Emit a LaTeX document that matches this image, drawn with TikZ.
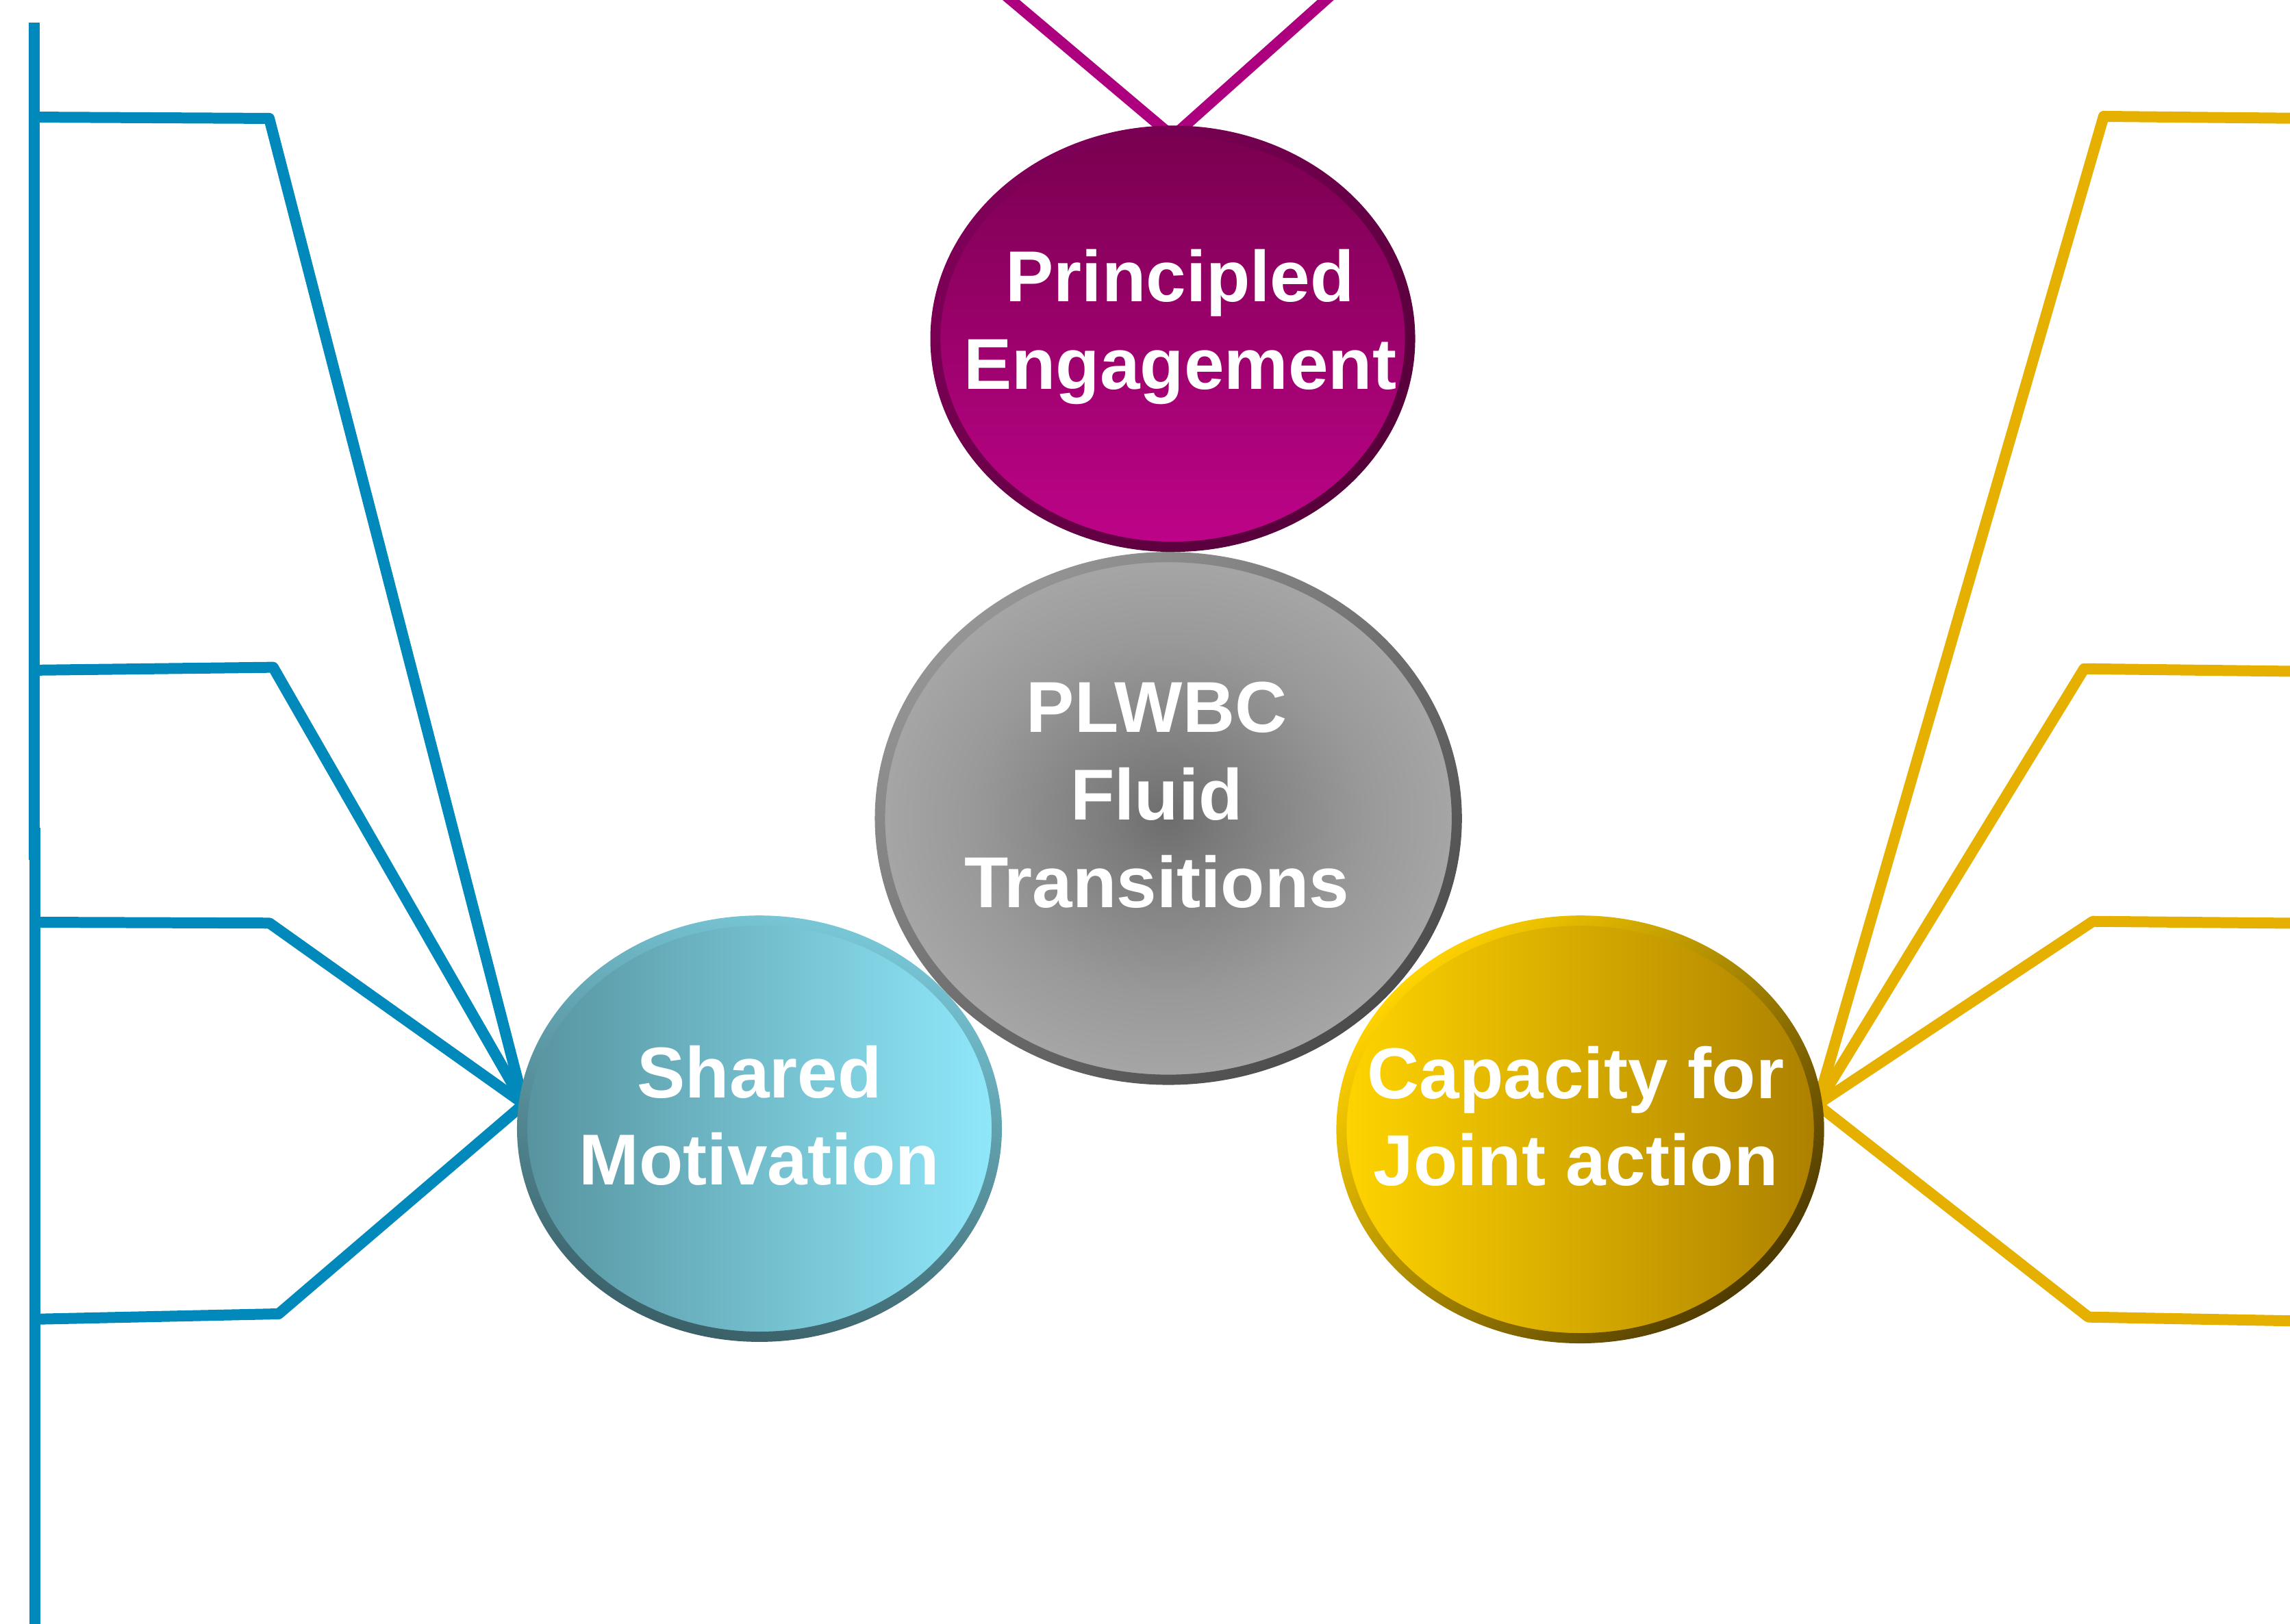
\documentclass[tikz,border=0pt]{standalone}
\usepackage{fontspec}
\setmainfont{Liberation Sans}
\usetikzlibrary{shapes.geometric,calc}

\definecolor{branchblue}{HTML}{0089BA}
\definecolor{branchgold}{HTML}{E5B000}
\definecolor{branchplum}{HTML}{AD007F}
\definecolor{gc0}{HTML}{6D6D6D}
\definecolor{gc1}{HTML}{7C7C7C}
\definecolor{gc2}{HTML}{999999}
\definecolor{gc3}{HTML}{A6A6A6}
\definecolor{pwrimA}{HTML}{959595}
\definecolor{pwrimB}{HTML}{4C4C4C}
\definecolor{peTop}{HTML}{79004F}
\definecolor{peBot}{HTML}{BE0389}
\definecolor{perimA}{HTML}{7E0057}
\definecolor{perimB}{HTML}{56003A}
\definecolor{smL}{HTML}{57939F}
\definecolor{smR}{HTML}{8FE8FA}
\definecolor{smrimA}{HTML}{78C7D7}
\definecolor{smrimB}{HTML}{3A5F67}
\definecolor{cjL}{HTML}{FFD400}
\definecolor{cjM}{HTML}{EFB300}
\definecolor{cjR}{HTML}{AC8000}
\definecolor{cjrimA}{HTML}{FFD200}
\definecolor{cjrimM}{HTML}{A07800}
\definecolor{cjrimB}{HTML}{4F3A00}

% grey centre disc: dark core fading to light grey towards the rim (rim at 25bp)
\pgfdeclareradialshading{greydisc}{\pgfpoint{0bp}{0bp}}{color(0bp)=(gc0); color(5bp)=(gc1); color(17bp)=(gc2); color(25bp)=(gc3); color(50bp)=(gc3)}

\pgfdeclarelayer{background}
\pgfsetlayers{background,main}

\begin{document}
\begin{tikzpicture}[x=0.02cm,y=-0.02cm,
  bubble/.style={ellipse, inner sep=0pt, outer sep=0pt, draw=none},
  branch/.style={line width=0.15cm, line join=round, line cap=butt},
  caption/.style={text=white, align=center, inner sep=0pt,
    font=\bfseries\fontsize{28.1pt}{34.1pt}\selectfont},
]
\useasboundingbox (0,0) rectangle (1568,1112);
\clip (0,0) rectangle (1568,1112);

% ---------- bubbles (back to front) ----------
\node[bubble, minimum width=7.9cm, minimum height=7.14cm, shade, shading=greydisc] (pw) at (800,560.5) {};
\shade[even odd rule, top color=pwrimA, bottom color=pwrimB, shading angle=40]
  (pw.center) ellipse [x radius=201, y radius=182.5]
  (pw.center) ellipse [x radius=194, y radius=175.5];

\node[bubble, minimum width=6.5cm, minimum height=5.7cm, top color=peTop, bottom color=peBot] (pe) at (803,232) {};
\shade[even odd rule, top color=perimA, bottom color=perimB, shading angle=45]
  (pe.center) ellipse [x radius=166, y radius=146]
  (pe.center) ellipse [x radius=159, y radius=139];

\node[bubble, minimum width=6.5cm, minimum height=5.7cm, left color=smL, right color=smR] (sm) at (520,773) {};
\shade[even odd rule, top color=smrimA, bottom color=smrimB, shading angle=-15]
  (sm.center) ellipse [x radius=166, y radius=146]
  (sm.center) ellipse [x radius=159, y radius=139];

\node[bubble, minimum width=6.54cm, minimum height=5.74cm, left color=cjL, middle color=cjM, right color=cjR] (cj) at (1082,773.5) {};
\shade[even odd rule, top color=cjrimA, middle color=cjrimM, bottom color=cjrimB, shading angle=45]
  (cj.center) ellipse [x radius=167, y radius=146.5]
  (cj.center) ellipse [x radius=160, y radius=139.5];

% ---------- captions ----------
\node[caption] (pet) at (808,224) {Principled\\Engagement};
\node[caption] (pwt) at (792,544.5) {PLWBC\\Fluid\\Transitions};
\node[caption] (smt) at (520,764) {Shared\\Motivation};
\node[caption] (cjt) at (1079,764.5) {Capacity for\\Joint action};

% ---------- branch points ----------
\coordinate (spineA1) at (23.4,15.5);
\coordinate (spineA2) at (23.4,589);
\coordinate (spineB1) at (23.9,567);
\coordinate (spineB2) at (23.9,1130);

\coordinate (l1a) at (23,80.2);   \coordinate (l1b) at (184.3,81.1);
\coordinate (l2a) at (23,459);    \coordinate (l2b) at (187,457);
\coordinate (l3a) at (23,631.6);  \coordinate (l3b) at (184.5,632.2);
\coordinate (l4a) at (23,903.5);  \coordinate (l4b) at (190.8,899.8);

\coordinate (r1b) at (1440.4,79.7); \coordinate (r1a) at (1590,81.2);
\coordinate (r2b) at (1427,458);    \coordinate (r2a) at (1590,460);
\coordinate (r3b) at (1433,631);    \coordinate (r3a) at (1590,632.5);
\coordinate (r4b) at (1430,902);    \coordinate (r4a) at (1590,905);

\coordinate (smhub) at (sm.174);
\coordinate (cjhub) at (cj.6);
\coordinate (peapex) at ($(pe.north)+(0,4)$);
\coordinate (m1) at (668.6,-20);
\coordinate (m2) at (930,-20);

% ---------- connectors, behind the bubbles ----------
\begin{pgfonlayer}{background}
  \draw[branch, branchblue] (spineA1) -- (spineA2);
  \draw[branch, branchblue] (spineB1) -- (spineB2);
  \draw[branch, branchblue] (l1a) -- (l1b) -- (smhub);
  \draw[branch, branchblue] (l2a) -- (l2b) -- (smhub);
  \draw[branch, branchblue] (l3a) -- (l3b) -- (smhub);
  \draw[branch, branchblue] (l4a) -- (l4b) -- (smhub);

  \draw[branch, branchgold] (cjhub) -- (r1b) -- (r1a);
  \draw[branch, branchgold] (cjhub) -- (r2b) -- (r2a);
  \draw[branch, branchgold] (cjhub) -- (r3b) -- (r3a);
  \draw[branch, branchgold] (cjhub) -- (r4b) -- (r4a);

  \draw[branch, branchplum] (m1) -- (peapex) -- (m2);
\end{pgfonlayer}
\end{tikzpicture}
\end{document}
